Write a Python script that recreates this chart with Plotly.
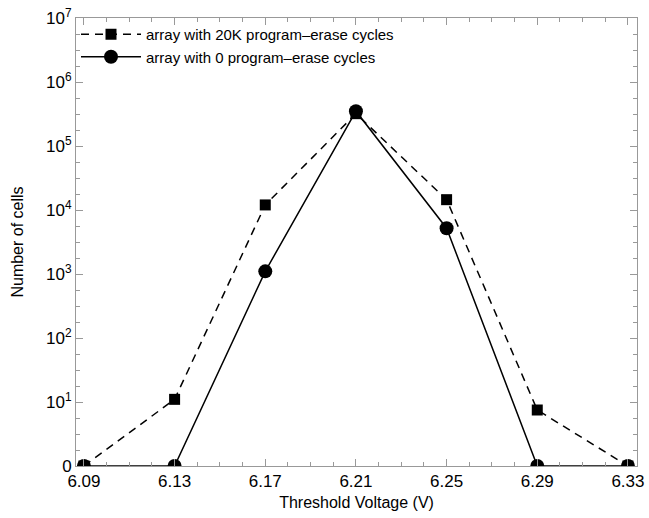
import plotly.graph_objects as go

voltage = [6.09, 6.13, 6.17, 6.21, 6.25, 6.29, 6.33]
cells_20k = [0, 11, 12000, 320000, 14500, 7.5, 0]
cells_0 = [0, 0, 1100, 350000, 5200, 0, 0]
x_ticks = [6.09, 6.13, 6.17, 6.21, 6.25, 6.29, 6.33]
y_tickvals = [1, 10, 100, 1e3, 1e4, 1e5, 1e6, 1e7]
y_ticktext = ["0", "10<sup>1</sup>", "10<sup>2</sup>", "10<sup>3</sup>", "10<sup>4</sup>",
              "10<sup>5</sup>", "10<sup>6</sup>", "10<sup>7</sup>"]

# zero counts are drawn on the "0" line (log position of 1)
def on_axis(v):
    return [1 if c == 0 else c for c in v]

fig = go.Figure()
fig.add_trace(go.Scatter(
    x=voltage, y=on_axis(cells_20k), mode="lines+markers",
    name="array with 20K program\u2013erase cycles",
    line=dict(color="black", width=1.5, dash="8px,6px"),
    marker=dict(symbol="square", size=11, color="black"),
))
fig.add_trace(go.Scatter(
    x=voltage, y=on_axis(cells_0), mode="lines+markers",
    name="array with 0 program\u2013erase cycles",
    line=dict(color="black", width=1.5),
    marker=dict(symbol="circle", size=14, color="black"),
))

axis_common = dict(
    showline=True, linecolor="#999999", linewidth=1, mirror="ticks",
    ticks="inside", tickcolor="#999999", ticklen=7, showgrid=False, zeroline=False,
    tickfont=dict(size=17, color="black"), automargin=False,
)

fig.update_xaxes(
    range=[6.0865, 6.334], tickmode="array", tickvals=x_ticks,
    ticktext=[f"{v:.2f}" for v in x_ticks],
    title=dict(text="Threshold Voltage (V)", font=dict(size=16, color="black"), standoff=6),
    minor=dict(ticks="inside", tickmode="linear", tick0=6.09, dtick=0.01, ticklen=4,
               tickcolor="#999999"),
    **axis_common,
)
fig.update_yaxes(
    type="log", range=[0, 7], tickmode="array", tickvals=y_tickvals, ticktext=y_ticktext,
    title=dict(text="Number of cells", font=dict(size=16, color="black"), standoff=18),
    minor=dict(ticks="inside", tickmode="linear", tick0=0, dtick=0.25, ticklen=4,
               tickcolor="#999999"),
    **axis_common,
)

fig.update_layout(
    width=649, height=518,
    margin=dict(l=76, r=12, t=18, b=52),
    plot_bgcolor="white", paper_bgcolor="white",
    font=dict(family="Liberation Sans, Arial, sans-serif", color="black"),
    legend=dict(x=0.0, y=1.0, xanchor="left", yanchor="top",
                bgcolor="rgba(0,0,0,0)", font=dict(size=15), tracegroupgap=0,
                itemwidth=60),
    showlegend=True,
)

fig.write_html("out.html")
